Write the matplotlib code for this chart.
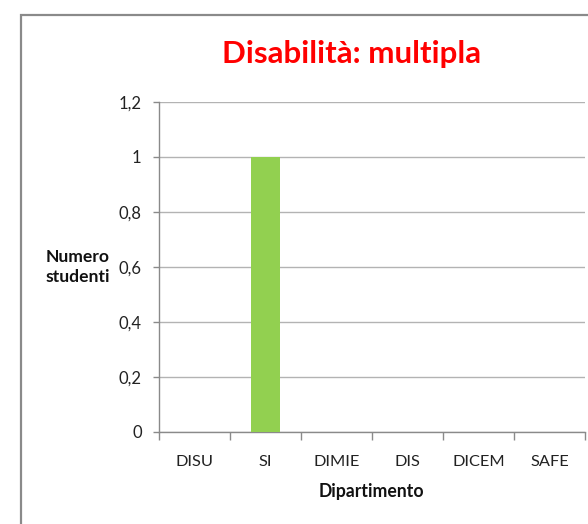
import matplotlib
matplotlib.use("Agg")
import matplotlib.pyplot as plt
from matplotlib.patches import Rectangle
from matplotlib.ticker import FuncFormatter, FixedLocator

categories = ["DISU", "SI", "DIMIE", "DIS", "DICEM", "SAFE"]
values = [0, 1, 0, 0, 0, 0]
yticks = [0, 0.2, 0.4, 0.6, 0.8, 1.0, 1.2]
title = "Disabilità: multipla"
xlabel = "Dipartimento"
ylabel = "Numero\nstudenti"

plt.rcParams['font.family'] = ['Lato', 'DejaVu Sans']

W, H = 588, 524
fig = plt.figure(figsize=(W / 100, H / 100), dpi=100)
fig.patch.set_facecolor("white")

# chart border (extends beyond the image on right and bottom)
fig.patches.append(Rectangle((20.5 / W, -0.2), 1.2, 1 - 14.5 / H + 0.2,
                             transform=fig.transFigure, fill=False,
                             edgecolor="#8a8a8a", linewidth=1.6))

left, right, top, bottom = 159, 585, 101.7, 431.7
ax = fig.add_axes([left / W, 1 - bottom / H, (right - left) / W, (bottom - top) / H])

x = list(range(len(categories)))
ax.bar(x, values, width=0.4, color="#92d050", zorder=3)
ax.set_xlim(-0.5, len(categories) - 0.5)
ax.set_ylim(0, 1.2)

ax.yaxis.set_major_locator(FixedLocator(yticks))
def fmt(v, pos):
    s = f"{v:.1f}".rstrip("0").rstrip(".")
    return s.replace(".", ",")
ax.yaxis.set_major_formatter(FuncFormatter(fmt))
ax.grid(axis="y", color="#b3b3b3", linewidth=1.0, zorder=0)

ax.set_xticks(x)
ax.set_xticklabels(categories)
ax.set_xticks([i - 0.5 for i in range(len(categories) + 1)], minor=True)
ax.tick_params(axis="x", which="major", length=0, pad=17, labelsize=11.8, colors="#222222")
ax.tick_params(axis="x", which="minor", length=6, width=1, color="#8a8a8a")
ax.tick_params(axis="y", length=4.5, width=1, color="#8a8a8a", pad=8, labelsize=12, labelcolor="#222222")

for s in ["top", "right"]:
    ax.spines[s].set_visible(False)
for s in ["left", "bottom"]:
    ax.spines[s].set_color("#8a8a8a")
    ax.spines[s].set_linewidth(1.0)

fig.text(352 / W, 1 - 54 / H, title, color="#ff0000", fontsize=22.5, fontweight="bold",
         ha="center", va="center")
fig.text(371 / W, 1 - 492 / H, xlabel, fontsize=12.7, fontweight="bold", ha="center", va="center",
         color="#111111")
fig.text(77.5 / W, 1 - 267 / H, ylabel, fontsize=12.6, fontweight="bold", ha="center", va="center",
         color="#111111", linespacing=1.25)

fig.savefig("out.png", dpi=100, facecolor="white")
